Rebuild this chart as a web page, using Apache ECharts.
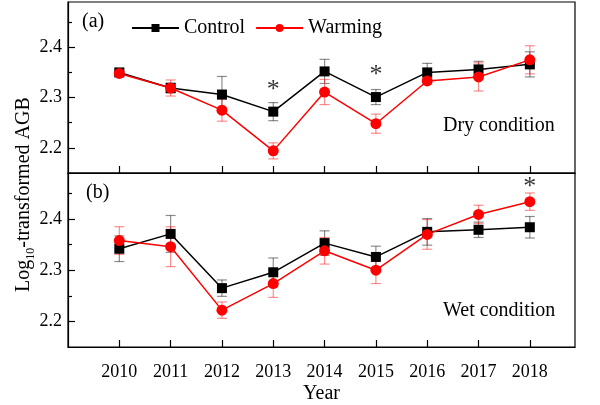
<!DOCTYPE html>
<html>
<head>
<meta charset="utf-8">
<script src="https://cdn.jsdelivr.net/npm/echarts@6/dist/echarts.min.js"></script>
<style>
  html, body { margin: 0; padding: 0; background: #fff; }
  #chart { width: 600px; height: 405px; }
</style>
</head>
<body>
<div id="chart"></div>
<script>
// data
var years = [2010, 2011, 2012, 2013, 2014, 2015, 2016, 2017, 2018]
var dryControl    = [2.350, 2.319, 2.306, 2.272, 2.352, 2.301, 2.350, 2.356, 2.366]
var dryControlErr = [0.005, 0.010, 0.036, 0.018, 0.024, 0.015, 0.018, 0.016, 0.025]
var dryWarming    = [2.348, 2.319, 2.275, 2.194, 2.311, 2.248, 2.333, 2.341, 2.375]
var dryWarmingErr = [0.005, 0.016, 0.022, 0.016, 0.025, 0.019, 0.007, 0.028, 0.028]
var wetControl    = [2.342, 2.371, 2.265, 2.296, 2.353, 2.326, 2.375, 2.379, 2.384]
var wetControlErr = [0.025, 0.036, 0.016, 0.028, 0.024, 0.021, 0.026, 0.015, 0.021]
var wetWarming    = [2.358, 2.346, 2.222, 2.274, 2.338, 2.300, 2.370, 2.409, 2.434]
var wetWarmingErr = [0.027, 0.039, 0.016, 0.027, 0.026, 0.026, 0.029, 0.018, 0.017]
var dryStars = [[2013, 2.324], [2015, 2.355]]
var wetStars = [[2018, 2.473]]
var yTicks = [2.2, 2.3, 2.4]
var yMinorTicks = [2.25, 2.35, 2.45]

var font = 'Liberation Serif'
var myChart = echarts.init(document.getElementById('chart'))

function errBars(i, mean, err, color) {
    return {
        type: 'custom',
        xAxisIndex: i,
        yAxisIndex: i * 2,
        silent: true,
        z: 1,
        encode: { x: 0, y: [1, 2] },
        data: years.map(function (y, k) { return [y, mean[k] - err[k], mean[k] + err[k]] }),
        renderItem: function (params, api) {
            var lo = api.coord([api.value(0), api.value(1)])
            var hi = api.coord([api.value(0), api.value(2)])
            var w = 5
            var st = { stroke: color, lineWidth: 1.2 }
            return {
                type: 'group',
                children: [
                    { type: 'line', shape: { x1: lo[0], y1: lo[1], x2: hi[0], y2: hi[1] }, style: st },
                    { type: 'line', shape: { x1: lo[0] - w, y1: lo[1], x2: lo[0] + w, y2: lo[1] }, style: st },
                    { type: 'line', shape: { x1: hi[0] - w, y1: hi[1], x2: hi[0] + w, y2: hi[1] }, style: st }
                ]
            }
        }
    }
}

function lineSeries(i, name, vals, color, symbol, size) {
    return {
        name: name,
        type: 'line',
        xAxisIndex: i,
        yAxisIndex: i * 2,
        z: 3,
        data: years.map(function (y, k) { return [y, vals[k]] }),
        symbol: symbol,
        symbolSize: size,
        itemStyle: { color: color },
        lineStyle: { color: color, width: 1.5 }
    }
}

function starSeries(i, pts) {
    return {
        type: 'scatter',
        xAxisIndex: i,
        yAxisIndex: i * 2,
        symbolSize: 0,
        silent: true,
        clip: false,
        data: pts,
        label: {
            show: true,
            position: 'inside',
            offset: [0, 5],
            formatter: '*',
            color: '#000',
            fontFamily: font,
            fontSize: 26
        }
    }
}

function xAx(i, showLabel) {
    return {
        type: 'value',
        gridIndex: i,
        min: 2009,
        max: 2018.88,
        axisLine: { show: true, onZero: false, lineStyle: { color: '#000', width: 1.2 } },
        axisTick: { show: true, inside: true, length: 7, customValues: years, lineStyle: { color: '#000', width: 1.2 } },
        axisLabel: {
            show: showLabel, customValues: years, margin: 16,
            color: '#000', fontFamily: font, fontSize: 18,
            formatter: function (v) { return String(Math.round(v)) }
        },
        splitLine: { show: false },
        name: showLabel ? 'Year' : '',
        nameLocation: 'middle',
        nameGap: 37,
        nameTextStyle: { color: '#000', fontFamily: font, fontSize: 20 }
    }
}

function yAx(i) {
    return [{
        type: 'value',
        gridIndex: i,
        min: 2.15,
        max: 2.49,
        axisLine: { show: true, lineStyle: { color: '#000', width: 1.2 } },
        axisTick: { show: true, inside: true, length: 7, customValues: yTicks, lineStyle: { color: '#000', width: 1.2 } },
        axisLabel: {
            customValues: yTicks, margin: 6,
            color: '#000', fontFamily: font, fontSize: 18,
            formatter: function (v) { return v.toFixed(1) }
        },
        splitLine: { show: false }
    }, {
        type: 'value',
        gridIndex: i,
        position: 'left',
        min: 2.15,
        max: 2.49,
        axisLine: { show: false },
        axisTick: { show: true, inside: true, length: 4, customValues: yMinorTicks, lineStyle: { color: '#000', width: 1.2 } },
        axisLabel: { show: false },
        splitLine: { show: false }
    }]
}

var option = {
    animation: false,
    backgroundColor: '#fff',
    textStyle: { fontFamily: font, color: '#000' },
    grid: [
        { left: 68, right: 25, top: 2, height: 171, show: true, borderColor: '#000', borderWidth: 1.2 },
        { left: 68, right: 25, top: 173, height: 174, show: true, borderColor: '#000', borderWidth: 1.2 }
    ],
    legend: {
        data: ['Control', 'Warming'],
        left: 126,
        top: 13,
        itemWidth: 47,
        itemHeight: 10,
        itemGap: 10,
        textStyle: { color: '#000', fontFamily: font, fontSize: 20 }
    },
    xAxis: [xAx(0, false), xAx(1, true)],
    yAxis: yAx(0).concat(yAx(1)),
    graphic: [
        { type: 'text', left: 82, top: 12, style: { text: '(a)', font: '20px "Liberation Serif"', fill: '#000' } },
        { type: 'text', left: 86, top: 183, style: { text: '(b)', font: '20px "Liberation Serif"', fill: '#000' } },
        { type: 'text', left: 443, top: 116, style: { text: 'Dry condition', font: '20px "Liberation Serif"', fill: '#000' } },
        { type: 'text', left: 443, top: 301, style: { text: 'Wet condition', font: '20px "Liberation Serif"', fill: '#000' } },
        {
            type: 'text', x: 12, y: 292, rotation: Math.PI / 2,
            style: {
                text: '{a|Log}{s|10}{a|-transformed AGB}',
                fill: '#000',
                rich: {
                    a: { fontFamily: font, fontSize: 20, lineHeight: 22, verticalAlign: 'bottom' },
                    s: { fontFamily: font, fontSize: 12, lineHeight: 14, verticalAlign: 'bottom', padding: [0, 0, -3, 0] }
                }
            }
        }
    ],
    series: [
        errBars(0, dryControl, dryControlErr, 'rgba(0,0,0,0.45)'),
        errBars(0, dryWarming, dryWarmingErr, 'rgba(255,0,0,0.45)'),
        lineSeries(0, 'Control', dryControl, '#000', 'rect', 10),
        lineSeries(0, 'Warming', dryWarming, '#ff0000', 'circle', 11),
        starSeries(0, dryStars),
        errBars(1, wetControl, wetControlErr, 'rgba(0,0,0,0.45)'),
        errBars(1, wetWarming, wetWarmingErr, 'rgba(255,0,0,0.45)'),
        lineSeries(1, 'Control', wetControl, '#000', 'rect', 10),
        lineSeries(1, 'Warming', wetWarming, '#ff0000', 'circle', 11),
        starSeries(1, wetStars)
    ]
}
myChart.setOption(option)
</script>
</body>
</html>
